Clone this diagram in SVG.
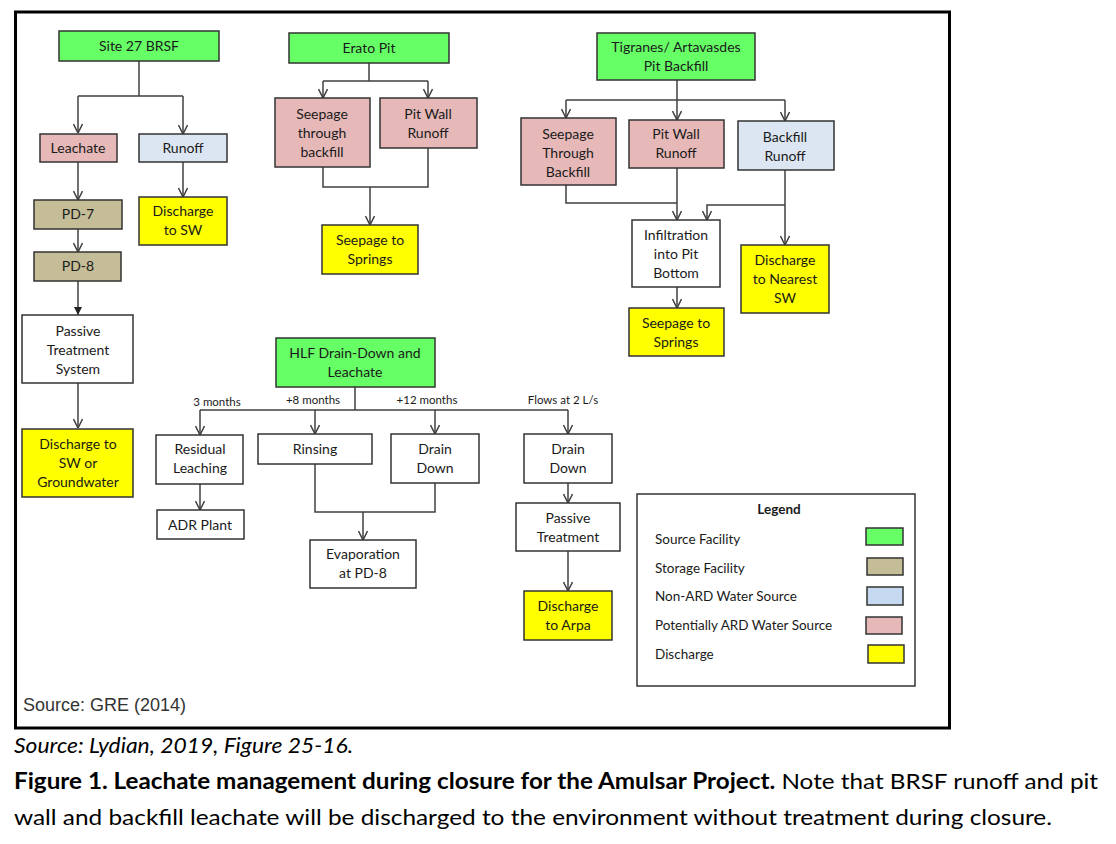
<svg xmlns="http://www.w3.org/2000/svg" width="1116" height="844" viewBox="0 0 1116 844">
<defs>
<style>
.t{font-family:Lato,"Open Sans","Liberation Sans",sans-serif;font-size:14px;fill:#1a1a1a;text-anchor:middle}
.s{font-family:Lato,"Open Sans","Liberation Sans",sans-serif;font-size:11.5px;fill:#1a1a1a;text-anchor:middle}
.lg{font-family:Lato,"Open Sans","Liberation Sans",sans-serif;font-size:13.5px;fill:#1a1a1a}
.b{stroke:#333;stroke-width:1.5}
.g{fill:#66FF66}.p{fill:#E6B9B8}.u{fill:#DCE6F2}.k{fill:#C4BD97}.y{fill:#FFFF00}.w{fill:#FFFFFF}
.c{fill:none;stroke:#404040;stroke-width:1.5}
.a{marker-end:url(#ar)}
.cap{font-family:Lato,"Open Sans","Liberation Sans",sans-serif;font-size:22px;fill:#000}
</style>
<marker id="ar" viewBox="0 0 10 10" refX="10" refY="5" markerWidth="10" markerHeight="10" markerUnits="userSpaceOnUse" orient="auto">
<path d="M1,0.5 L10,5 L1,9.5" fill="none" stroke="#404040" stroke-width="1.5"/>
</marker>
<marker id="af" viewBox="0 0 10 10" refX="10" refY="5" markerWidth="8" markerHeight="8" markerUnits="userSpaceOnUse" orient="auto">
<path d="M0,0 L10,5 L0,10 z" fill="#222"/>
</marker>
</defs>
<rect x="0" y="0" width="1116" height="844" fill="#FFFFFF"/>
<rect x="15.5" y="12" width="934" height="716" fill="#FFFFFF" stroke="#000" stroke-width="3"/>

<g id="connectors">
<path class="c" d="M139,61 V96 M78,96 H183"/>
<path class="c a" d="M78,96 V133"/>
<path class="c a" d="M183,96 V134"/>
<path class="c a" d="M78,162 V200"/>
<path class="c a" d="M183,162 V197"/>
<path class="c a" d="M78,229 V252"/>
<path class="c" d="M78,281 V315" marker-end="url(#af)"/>
<path class="c a" d="M78,383 V428"/>
<path class="c" d="M369,63 V81 M323,81 H428"/>
<path class="c a" d="M323,81 V98"/>
<path class="c a" d="M428,81 V98"/>
<path class="c" d="M323,167 V187 H428 V148"/>
<path class="c a" d="M370,187 V225"/>
<path class="c" d="M677,80 V100 M566,100 H785"/>
<path class="c a" d="M566,100 V118"/>
<path class="c a" d="M677,100 V120"/>
<path class="c a" d="M785,100 V121"/>
<path class="c" d="M566,185 V203 H677"/>
<path class="c a" d="M677,168 V220"/>
<path class="c a" d="M785,170 V245"/>
<path class="c a" d="M785,205 H707 V220"/>
<path class="c a" d="M677,287 V308"/>
<path class="c" d="M355,387 V410 M200,410 H568"/>
<path class="c a" d="M200,410 V435"/>
<path class="c a" d="M315,410 V434"/>
<path class="c a" d="M435,410 V434"/>
<path class="c a" d="M568,410 V434"/>
<path class="c a" d="M200,484 V510"/>
<path class="c" d="M315,464 V512 H435 V483"/>
<path class="c a" d="M363,512 V540"/>
<path class="c a" d="M568,483 V503"/>
<path class="c a" d="M568,551 V591"/>
</g>

<g id="site27">
<rect class="b g" x="59" y="31" width="160" height="30"/>
<text class="t" x="139" y="51">Site 27 BRSF</text>
</g>
<g id="leachate">
<rect class="b p" x="40" y="134" width="77" height="28"/>
<text class="t" x="78" y="153">Leachate</text>
</g>
<g id="runoff">
<rect class="b u" x="139" y="134" width="88" height="28"/>
<text class="t" x="183" y="153">Runoff</text>
</g>
<g id="pd7">
<rect class="b k" x="34" y="200" width="88" height="29"/>
<text class="t" x="78" y="219">PD-7</text>
</g>
<g id="pd8">
<rect class="b k" x="34" y="252" width="87" height="29"/>
<text class="t" x="78" y="271">PD-8</text>
</g>
<g id="dischargeSW">
<rect class="b y" x="139" y="197" width="88" height="48"/>
<text class="t" x="183" y="216">Discharge</text>
<text class="t" x="183" y="235">to SW</text>
</g>
<g id="passiveSystem">
<rect class="b w" x="22" y="315" width="111" height="68"/>
<text class="t" x="78" y="336">Passive</text>
<text class="t" x="78" y="355">Treatment</text>
<text class="t" x="78" y="374">System</text>
</g>
<g id="dischargeGW">
<rect class="b y" x="22" y="429" width="111" height="68"/>
<text class="t" x="78" y="449">Discharge to</text>
<text class="t" x="78" y="468">SW or</text>
<text class="t" x="78" y="487">Groundwater</text>
</g>

<g id="erato">
<rect class="b g" x="289" y="33" width="160" height="30"/>
<text class="t" x="369" y="53">Erato Pit</text>
</g>
<g id="eratoSeepage">
<rect class="b p" x="275" y="98" width="95" height="69"/>
<text class="t" x="322" y="119">Seepage</text>
<text class="t" x="322" y="138">through</text>
<text class="t" x="322" y="157">backfill</text>
</g>
<g id="eratoPitWall">
<rect class="b p" x="380" y="98" width="97" height="50"/>
<text class="t" x="428" y="119">Pit Wall</text>
<text class="t" x="428" y="138">Runoff</text>
</g>
<g id="eratoSprings">
<rect class="b y" x="322" y="225" width="96" height="49"/>
<text class="t" x="370" y="245">Seepage to</text>
<text class="t" x="370" y="264">Springs</text>
</g>

<g id="tigranes">
<rect class="b g" x="597" y="33" width="158" height="47"/>
<text class="t" x="676" y="52">Tigranes/ Artavasdes</text>
<text class="t" x="676" y="71">Pit Backfill</text>
</g>
<g id="tigSeepage">
<rect class="b p" x="521" y="118" width="95" height="67"/>
<text class="t" x="568" y="139">Seepage</text>
<text class="t" x="568" y="158">Through</text>
<text class="t" x="568" y="177">Backfill</text>
</g>
<g id="tigPitWall">
<rect class="b p" x="629" y="120" width="95" height="48"/>
<text class="t" x="676" y="139">Pit Wall</text>
<text class="t" x="676" y="158">Runoff</text>
</g>
<g id="tigBackfillRunoff">
<rect class="b u" x="738" y="121" width="96" height="49"/>
<text class="t" x="785" y="142">Backfill</text>
<text class="t" x="785" y="161">Runoff</text>
</g>
<g id="infiltration">
<rect class="b w" x="632" y="220" width="88" height="67"/>
<text class="t" x="676" y="240">Infiltration</text>
<text class="t" x="676" y="259">into Pit</text>
<text class="t" x="676" y="278">Bottom</text>
</g>
<g id="tigSprings">
<rect class="b y" x="629" y="308" width="95" height="48"/>
<text class="t" x="676" y="328">Seepage to</text>
<text class="t" x="676" y="347">Springs</text>
</g>
<g id="dischargeNearest">
<rect class="b y" x="741" y="245" width="88" height="68"/>
<text class="t" x="785" y="265">Discharge</text>
<text class="t" x="785" y="284">to Nearest</text>
<text class="t" x="785" y="303">SW</text>
</g>

<g id="hlf">
<rect class="b g" x="276" y="338" width="159" height="49"/>
<text class="t" x="355" y="358">HLF Drain-Down and</text>
<text class="t" x="355" y="377">Leachate</text>
</g>
<g id="labels">
<text class="s" x="217" y="406">3 months</text>
<text class="s" x="313" y="404">+8 months</text>
<text class="s" x="427" y="404">+12 months</text>
<text class="s" x="563" y="404">Flows at 2 L/s</text>
</g>
<g id="residual">
<rect class="b w" x="156" y="435" width="87" height="49"/>
<text class="t" x="200" y="454">Residual</text>
<text class="t" x="200" y="473">Leaching</text>
</g>
<g id="rinsing">
<rect class="b w" x="258" y="434" width="114" height="30"/>
<text class="t" x="315" y="454">Rinsing</text>
</g>
<g id="drainDown1">
<rect class="b w" x="391" y="434" width="88" height="49"/>
<text class="t" x="435" y="454">Drain</text>
<text class="t" x="435" y="473">Down</text>
</g>
<g id="drainDown2">
<rect class="b w" x="524" y="434" width="88" height="49"/>
<text class="t" x="568" y="454">Drain</text>
<text class="t" x="568" y="473">Down</text>
</g>
<g id="adr">
<rect class="b w" x="157" y="510" width="87" height="29"/>
<text class="t" x="200" y="530">ADR Plant</text>
</g>
<g id="evaporation">
<rect class="b w" x="310" y="540" width="106" height="48"/>
<text class="t" x="363" y="559">Evaporation</text>
<text class="t" x="363" y="578">at PD-8</text>
</g>
<g id="passiveTreatment">
<rect class="b w" x="516" y="503" width="104" height="48"/>
<text class="t" x="568" y="523">Passive</text>
<text class="t" x="568" y="542">Treatment</text>
</g>
<g id="dischargeArpa">
<rect class="b y" x="524" y="591" width="88" height="49"/>
<text class="t" x="568" y="611">Discharge</text>
<text class="t" x="568" y="630">to Arpa</text>
</g>

<g id="legend">
<rect x="637" y="494" width="278" height="192" fill="#FFFFFF" stroke="#333" stroke-width="1.5"/>
<text class="lg" x="779" y="514" text-anchor="middle" font-weight="bold">Legend</text>
<text class="lg" x="655" y="544">Source Facility</text>
<text class="lg" x="655" y="573">Storage Facility</text>
<text class="lg" x="655" y="601">Non-ARD Water Source</text>
<text class="lg" x="655" y="630">Potentially ARD Water Source</text>
<text class="lg" x="655" y="659">Discharge</text>
<rect class="b g" x="866" y="528" width="37" height="17"/>
<rect class="b k" x="867" y="558" width="36" height="17"/>
<rect x="867" y="587" width="36" height="18" fill="#C6D9F1" class="b"/>
<rect class="b p" x="866" y="617" width="36" height="17"/>
<rect class="b y" x="868" y="645" width="36" height="18"/>
</g>

<text x="23" y="711" font-family="'Liberation Sans',Arial,sans-serif" font-size="18" fill="#333">Source: GRE (2014)</text>

<g id="caption">
<text class="cap" x="14" y="753" font-style="italic" textLength="339" lengthAdjust="spacingAndGlyphs">Source: Lydian, 2019, Figure 25-16.</text>
<text class="cap" x="14" y="789" textLength="1084" lengthAdjust="spacingAndGlyphs"><tspan font-weight="bold">Figure 1. Leachate management during closure for the Amulsar Project.</tspan> Note that BRSF runoff and pit</text>
<text class="cap" x="14" y="825" textLength="1038" lengthAdjust="spacingAndGlyphs">wall and backfill leachate will be discharged to the environment without treatment during closure.</text>
</g>
</svg>
